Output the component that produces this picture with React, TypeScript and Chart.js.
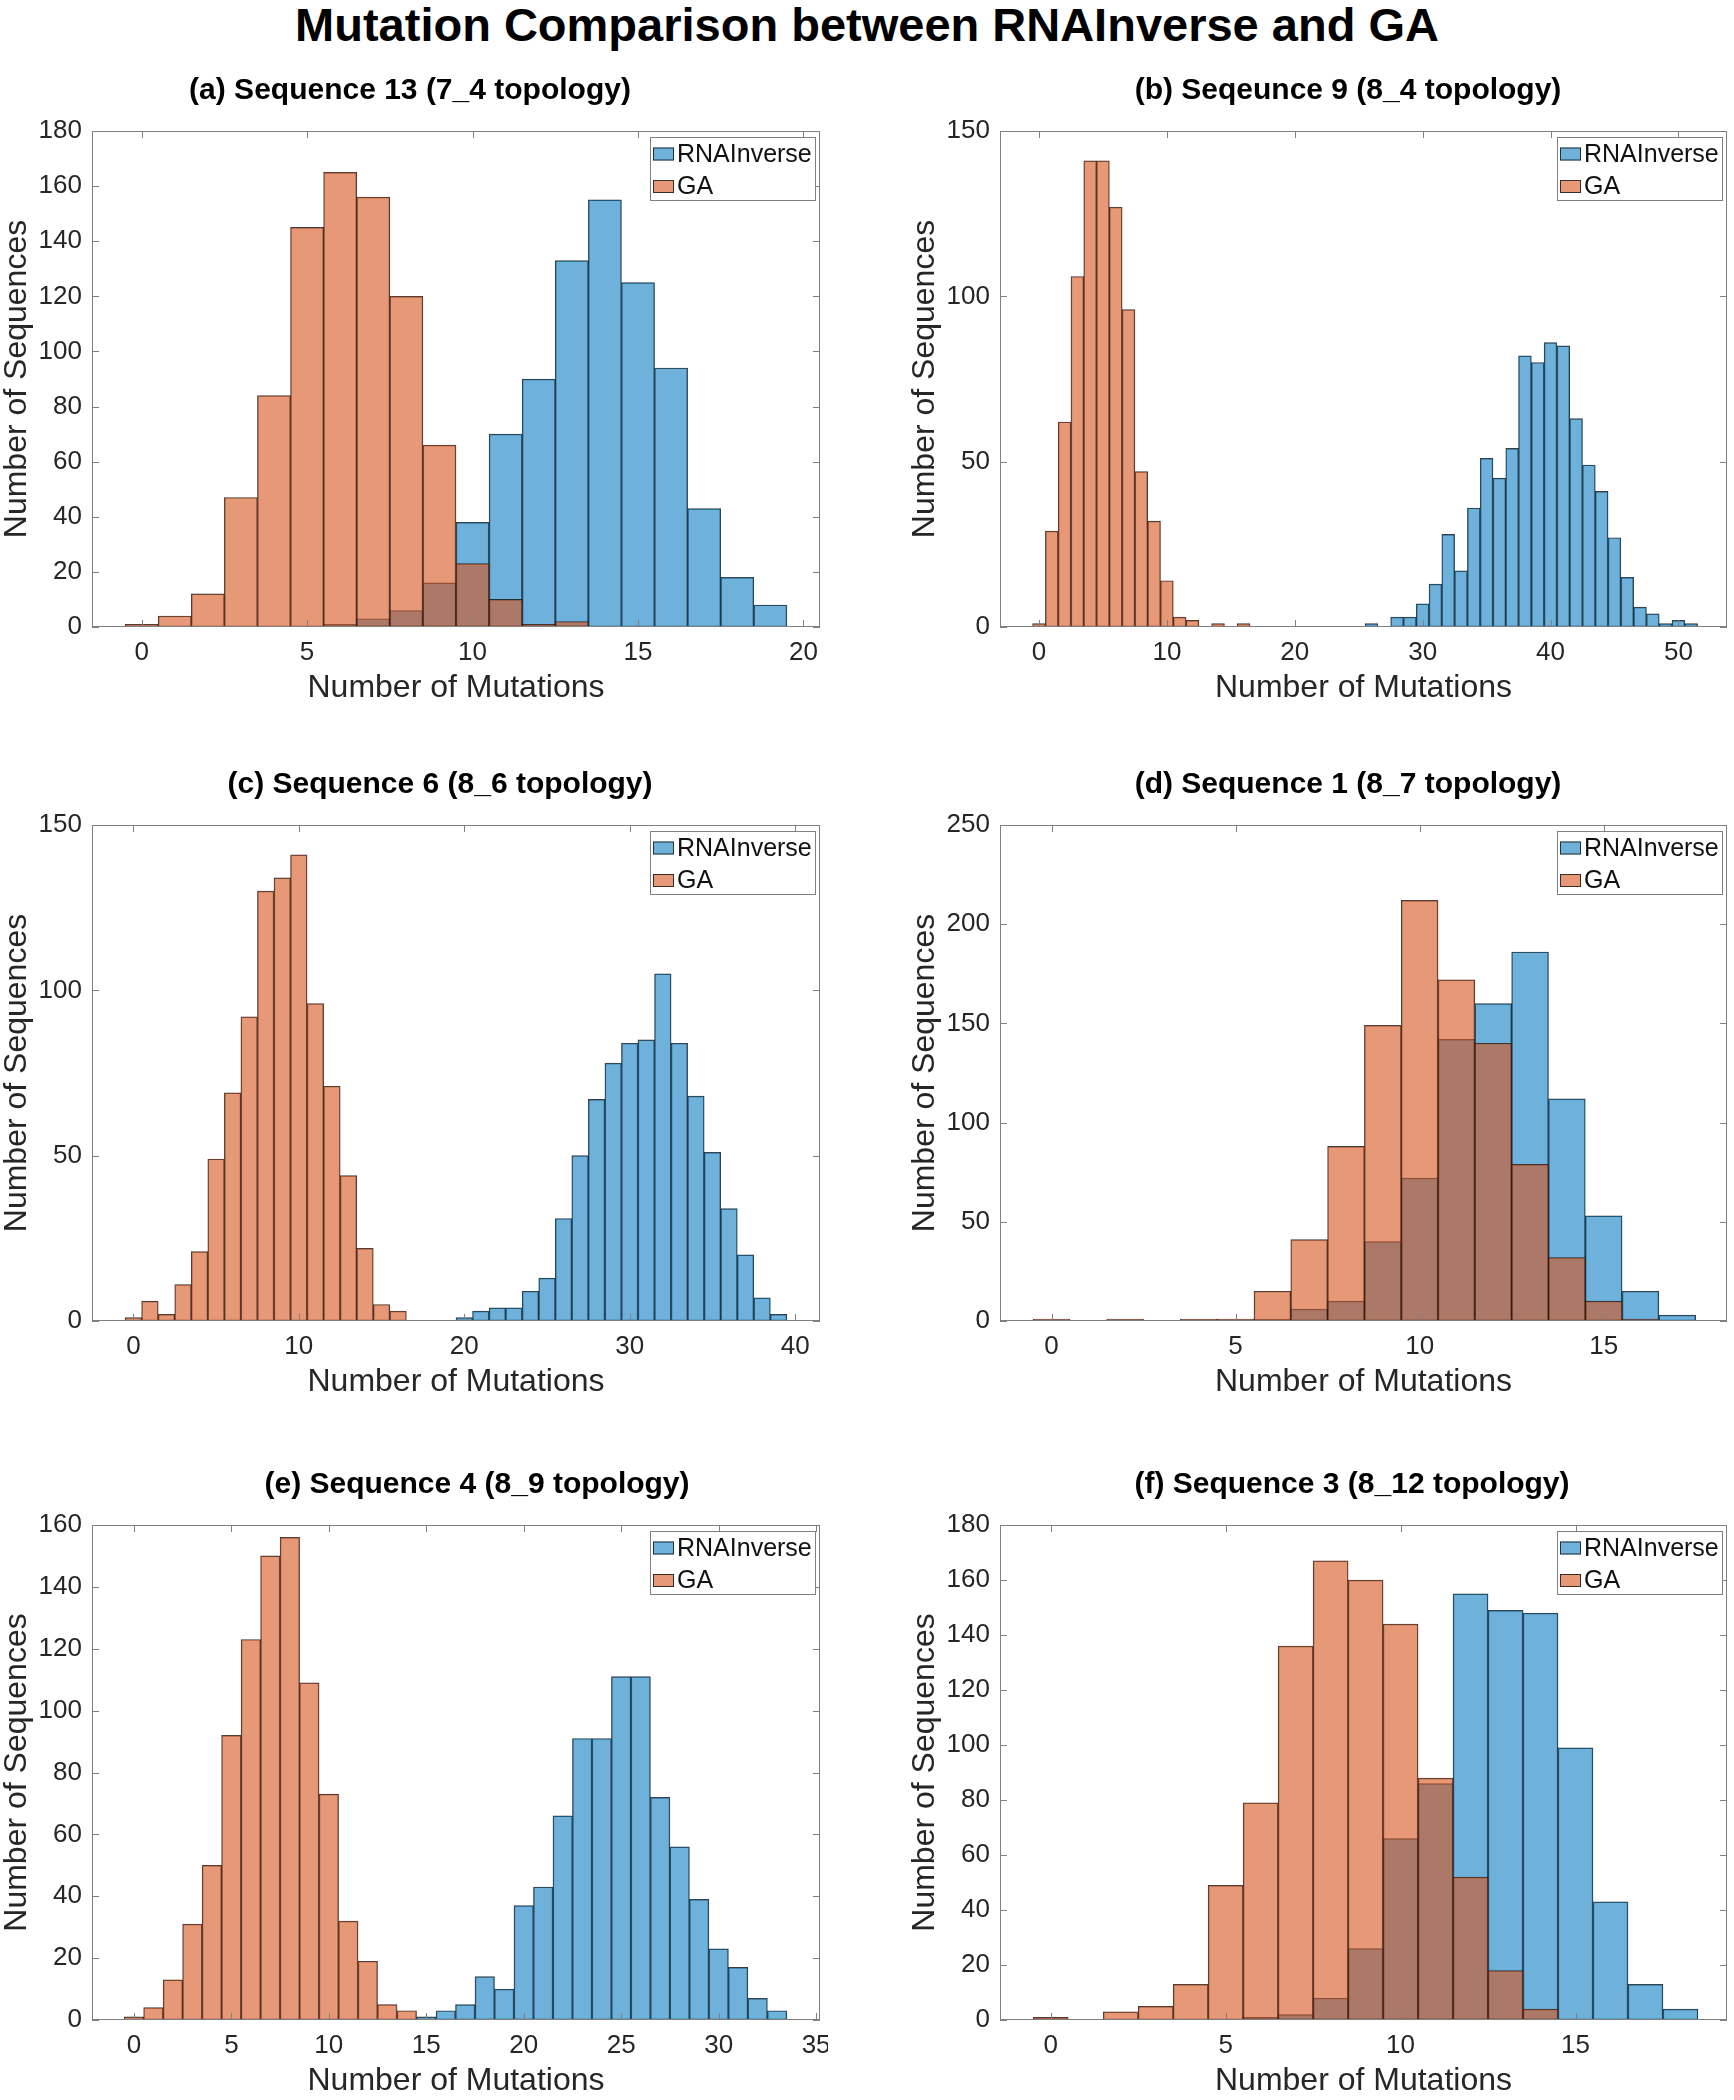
import React, { useEffect, useRef } from "react";
import { Chart, registerables } from "chart.js";

Chart.register(...registerables);

// ---------------- DATA ----------------
const MAIN_TITLE = "Mutation Comparison between RNAInverse and GA";
const SERIES_NAMES = ["RNAInverse", "GA"];
const X_LABEL = "Number of Mutations";
const Y_LABEL = "Number of Sequences";

// (a)
const A_TITLE = "(a) Sequence 13 (7_4 topology)";
const A_GA_START = 0;
const A_GA = [1, 4, 12, 47, 84, 145, 165, 156, 120, 66, 23, 10, 1, 2];
const A_RNA_START = 6;
const A_RNA = [1, 3, 6, 16, 38, 70, 90, 133, 155, 125, 94, 43, 18, 8];
const A_X_RANGE = [-1.5, 20.5];
const A_X_TICKS = [0, 5, 10, 15, 20];
const A_Y_TICKS = [0, 20, 40, 60, 80, 100, 120, 140, 160, 180];

// (b)
const B_TITLE = "(b) Seqeunce 9 (8_4 topology)";
const B_GA_START = 0;
const B_GA = [1, 29, 62, 106, 141, 141, 127, 96, 47, 32, 14, 3, 2, 0, 1, 0, 1];
const B_RNA_START = 26;
const B_RNA = [1, 0, 3, 3, 7, 13, 28, 17, 36, 51, 45, 54, 82, 80, 86, 85, 63, 49, 41, 27, 15, 6, 4, 1, 2, 1];
const B_X_RANGE = [-3.05, 53.8];
const B_X_TICKS = [0, 10, 20, 30, 40, 50];
const B_Y_TICKS = [0, 50, 100, 150];

// (c)
const C_TITLE = "(c) Sequence 6 (8_6 topology)";
const C_GA_START = 0;
const C_GA = [1, 6, 2, 11, 21, 49, 69, 92, 130, 134, 141, 96, 71, 44, 22, 5, 3];
const C_RNA_START = 20;
const C_RNA = [1, 3, 4, 4, 9, 13, 31, 50, 67, 78, 84, 85, 105, 84, 68, 51, 34, 20, 7, 2];
const C_X_RANGE = [-2.5, 41.5];
const C_X_TICKS = [0, 10, 20, 30, 40];
const C_Y_TICKS = [0, 50, 100, 150];

// (d)
const D_TITLE = "(d) Sequence 1 (8_7 topology)";
const D_GA_START = 0;
const D_GA = [1, 0, 1, 0, 1, 1, 15, 41, 88, 149, 212, 172, 140, 79, 32, 10, 1];
const D_RNA_START = 6;
const D_RNA = [1, 6, 10, 40, 72, 142, 160, 186, 112, 53, 15, 3];
const D_X_RANGE = [-1.4, 18.35];
const D_X_TICKS = [0, 5, 10, 15];
const D_Y_TICKS = [0, 50, 100, 150, 200, 250];

// (e)
const E_TITLE = "(e) Sequence 4 (8_9 topology)";
const E_GA_START = 0;
const E_GA = [1, 4, 13, 31, 50, 92, 123, 150, 156, 109, 73, 32, 19, 5, 3];
const E_RNA_START = 15;
const E_RNA = [1, 3, 5, 14, 10, 37, 43, 66, 91, 91, 111, 111, 72, 56, 39, 23, 17, 7, 3];
const E_X_RANGE = [-2.15, 35.2];
const E_X_TICKS = [0, 5, 10, 15, 20, 25, 30, 35];
const E_Y_TICKS = [0, 20, 40, 60, 80, 100, 120, 140, 160];

// (f)
const F_TITLE = "(f) Sequence 3 (8_12 topology)";
const F_GA_START = 0;
const F_GA = [1, 0, 3, 5, 13, 49, 79, 136, 167, 160, 144, 88, 52, 18, 4];
const F_RNA_START = 6;
const F_RNA = [1, 2, 8, 26, 66, 86, 155, 149, 148, 99, 43, 13, 4];
const F_X_RANGE = [-1.45, 19.33];
const F_X_TICKS = [0, 5, 10, 15];
const F_Y_TICKS = [0, 20, 40, 60, 80, 100, 120, 140, 160, 180];

// ---------------- STYLE ----------------
const FONT = "'Liberation Sans', Arial, Helvetica, sans-serif";
const RNA_COLOR = "rgba(0,119,194,0.57)";
const GA_COLOR = "rgba(214,84,28,0.6)";
const EDGE = "rgba(25,25,25,0.85)";
const AXIS = "#808080";
const TEXT = "#262626";

type PanelSpec = {
  title: string;
  titleX: number; // page x of title centre
  gaStart: number;
  ga: number[];
  rnaStart: number;
  rna: number[];
  xRange: number[];
  xTicks: number[];
  yTicks: number[];
  L: number;
  R: number;
  T: number;
  B: number;
};

const PANELS: PanelSpec[] = [
  { title: A_TITLE, titleX: 410, gaStart: A_GA_START, ga: A_GA, rnaStart: A_RNA_START, rna: A_RNA, xRange: A_X_RANGE, xTicks: A_X_TICKS, yTicks: A_Y_TICKS, L: 92, R: 820, T: 131, B: 627 },
  { title: B_TITLE, titleX: 1348, gaStart: B_GA_START, ga: B_GA, rnaStart: B_RNA_START, rna: B_RNA, xRange: B_X_RANGE, xTicks: B_X_TICKS, yTicks: B_Y_TICKS, L: 1000, R: 1727, T: 131, B: 627 },
  { title: C_TITLE, titleX: 440, gaStart: C_GA_START, ga: C_GA, rnaStart: C_RNA_START, rna: C_RNA, xRange: C_X_RANGE, xTicks: C_X_TICKS, yTicks: C_Y_TICKS, L: 92, R: 820, T: 825, B: 1321 },
  { title: D_TITLE, titleX: 1348, gaStart: D_GA_START, ga: D_GA, rnaStart: D_RNA_START, rna: D_RNA, xRange: D_X_RANGE, xTicks: D_X_TICKS, yTicks: D_Y_TICKS, L: 1000, R: 1727, T: 825, B: 1321 },
  { title: E_TITLE, titleX: 477, gaStart: E_GA_START, ga: E_GA, rnaStart: E_RNA_START, rna: E_RNA, xRange: E_X_RANGE, xTicks: E_X_TICKS, yTicks: E_Y_TICKS, L: 92, R: 820, T: 1525, B: 2020 },
  { title: F_TITLE, titleX: 1352, gaStart: F_GA_START, ga: F_GA, rnaStart: F_RNA_START, rna: F_RNA, xRange: F_X_RANGE, xTicks: F_X_TICKS, yTicks: F_Y_TICKS, L: 1000, R: 1727, T: 1525, B: 2020 },
];

const Y_AXIS_W = 92;
const TOP_PAD = 81;
const X_AXIS_H = 80;

function toPoints(start: number, counts: number[]) {
  return counts.map((y, i) => ({ x: start + i, y })).filter((p) => p.y > 0);
}

function HistPanel({ p }: { p: PanelSpec }) {
  const ref = useRef<HTMLCanvasElement>(null);
  const canvasLeft = p.L - Y_AXIS_W;
  const canvasTop = p.T - TOP_PAD;
  const padRight = p.L < 500 ? 8 : 1734 - p.R;
  const width = p.R - p.L + Y_AXIS_W + padRight;
  const height = TOP_PAD + (p.B - p.T) + X_AXIS_H;

  useEffect(() => {
    const canvas = ref.current;
    if (!canvas) return;

    const decor = {
      id: "decor",
      afterDatasetsDraw(chart: any) {
        const { ctx, chartArea: a, scales } = chart;
        const xs = scales.x;
        const ys = scales.y;
        ctx.save();
        // frame
        ctx.strokeStyle = AXIS;
        ctx.lineWidth = 1;
        ctx.strokeRect(a.left + 0.5, a.top + 0.5, a.right - a.left - 1, a.bottom - a.top - 1);
        // inside ticks on all four sides
        const tl = 7;
        ctx.beginPath();
        xs.ticks.forEach((t: any) => {
          const px = Math.round(xs.getPixelForValue(t.value)) + 0.5;
          ctx.moveTo(px, a.bottom);
          ctx.lineTo(px, a.bottom - tl);
          ctx.moveTo(px, a.top);
          ctx.lineTo(px, a.top + tl);
        });
        ys.ticks.forEach((t: any) => {
          const py = Math.round(ys.getPixelForValue(t.value)) + 0.5;
          ctx.moveTo(a.left, py);
          ctx.lineTo(a.left + tl, py);
          ctx.moveTo(a.right, py);
          ctx.lineTo(a.right - tl, py);
        });
        ctx.stroke();

        // legend
        const lw = 165;
        const lh = 63;
        const lx = Math.round(a.right - 5 - lw);
        const ly = Math.round(a.top + 6);
        ctx.fillStyle = "#ffffff";
        ctx.fillRect(lx, ly, lw, lh);
        ctx.strokeStyle = AXIS;
        ctx.strokeRect(lx + 0.5, ly + 0.5, lw, lh);
        const colors = [RNA_COLOR, GA_COLOR];
        const rows = [17, 49.5];
        ctx.font = `25px ${FONT}`;
        ctx.textBaseline = "middle";
        ctx.textAlign = "left";
        SERIES_NAMES.forEach((name, i) => {
          const cy = ly + rows[i];
          ctx.fillStyle = colors[i];
          ctx.fillRect(lx + 3, cy - 6.5, 21, 13);
          ctx.strokeStyle = EDGE;
          ctx.strokeRect(lx + 3.5, cy - 6, 20, 12);
          ctx.fillStyle = "#111111";
          ctx.fillText(name, lx + 27, cy + 1);
        });

        // panel title
        ctx.font = `bold 30px ${FONT}`;
        ctx.textAlign = "center";
        ctx.textBaseline = "middle";
        ctx.fillStyle = "#000000";
        ctx.fillText(p.title, p.titleX - canvasLeft, a.top - 40);
        ctx.restore();
      },
    };

    const common = {
      grouped: false,
      categoryPercentage: 1,
      barPercentage: 1,
      borderColor: EDGE,
      borderWidth: 0.8,
      borderSkipped: false,
    };

    const chart = new Chart(canvas, {
      type: "bar",
      data: {
        datasets: [
          { ...common, label: SERIES_NAMES[0], data: toPoints(p.rnaStart, p.rna), backgroundColor: RNA_COLOR, order: 1 } as any,
          { ...common, label: SERIES_NAMES[1], data: toPoints(p.gaStart, p.ga), backgroundColor: GA_COLOR, order: 0 } as any,
        ],
      },
      options: {
        animation: false,
        responsive: false,
        devicePixelRatio: 1,
        layout: { padding: { top: TOP_PAD, right: padRight, bottom: 0, left: 0 } },
        plugins: {
          legend: { display: false },
          tooltip: { enabled: false },
          title: { display: false },
        },
        scales: {
          x: {
            type: "linear",
            min: p.xRange[0],
            max: p.xRange[1],
            bounds: "data",
            offset: false,
            grid: { display: false, drawTicks: false },
            border: { display: false },
            ticks: {
              font: { family: FONT, size: 26, lineHeight: 1 },
              color: TEXT,
              padding: 13,
              maxRotation: 0,
              autoSkip: false,
            },
            afterBuildTicks: (s: any) => {
              s.ticks = p.xTicks.map((v) => ({ value: v }));
            },
            afterFit: (s: any) => {
              s.height = X_AXIS_H;
              s.paddingLeft = 0;
              s.paddingRight = 0;
            },
            title: {
              display: true,
              text: X_LABEL,
              color: TEXT,
              font: { family: FONT, size: 32, lineHeight: 1 },
              padding: { top: 0, bottom: 3 },
            },
          },
          y: {
            type: "linear",
            min: 0,
            max: p.yTicks[p.yTicks.length - 1],
            bounds: "data",
            grid: { display: false, drawTicks: false },
            border: { display: false },
            ticks: {
              font: { family: FONT, size: 26, lineHeight: 1 },
              color: TEXT,
              padding: 10,
              autoSkip: false,
            },
            afterBuildTicks: (s: any) => {
              s.ticks = p.yTicks.map((v) => ({ value: v }));
            },
            afterFit: (s: any) => {
              s.width = Y_AXIS_W;
              s.paddingTop = 0;
              s.paddingBottom = 0;
            },
            title: {
              display: true,
              text: Y_LABEL,
              color: TEXT,
              font: { family: FONT, size: 32, lineHeight: 1 },
              padding: { top: 1, bottom: 0 },
            },
          },
        },
      } as any,
      plugins: [decor],
    });
    return () => chart.destroy();
  }, []);

  return (
    <canvas
      ref={ref}
      width={width}
      height={height}
      style={{ position: "absolute", left: canvasLeft, top: canvasTop, width, height }}
    />
  );
}

export default function App() {
  return (
    <div
      style={{
        position: "absolute",
        left: 0,
        top: 0,
        width: 1734,
        height: 2100,
        background: "#ffffff",
        overflow: "hidden",
      }}
    >
      <div
        style={{
          position: "absolute",
          left: 0,
          top: 1,
          width: 1734,
          textAlign: "center",
          fontFamily: FONT,
          fontWeight: "bold",
          fontSize: 47,
          lineHeight: "47px",
          color: "#000",
          whiteSpace: "nowrap",
        }}
      >
        {MAIN_TITLE}
      </div>
      {PANELS.map((p, i) => (
        <HistPanel key={i} p={p} />
      ))}
    </div>
  );
}
